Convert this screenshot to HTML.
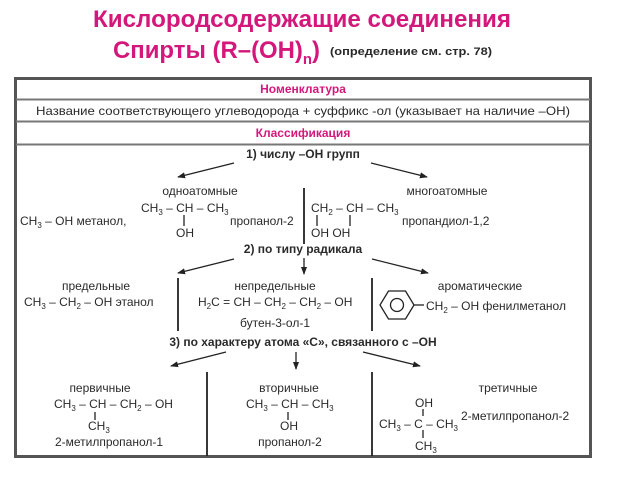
<!DOCTYPE html>
<html><head><meta charset="utf-8"><style>
html,body{margin:0;padding:0;background:#fff;}
svg{display:block;}
text{font-family:"Liberation Sans",sans-serif;fill:#2a2a2a;}
.b{font-weight:bold;}
.m{fill:#d4177a;font-weight:bold;}
</style></head><body>
<svg width="623" height="477" viewBox="0 0 623 477" xmlns="http://www.w3.org/2000/svg">
<defs><marker id="a" markerWidth="8" markerHeight="8" refX="7" refY="4" orient="auto" markerUnits="userSpaceOnUse"><path d="M0,1 L8,4 L0,7 z" fill="#222"/></marker></defs>
<text x="302" y="27" class="m" font-size="24" text-anchor="middle" textLength="418" lengthAdjust="spacingAndGlyphs">Кислородсодержащие соединения</text>
<text x="113" y="58" class="m" font-size="24" textLength="207" lengthAdjust="spacingAndGlyphs">Спирты (R–(OH)<tspan font-size="15" dy="6">n</tspan><tspan dy="-6">)</tspan></text>
<text x="330" y="55" class="b" font-size="11" textLength="162" lengthAdjust="spacingAndGlyphs">(определение см. стр. 78)</text>
<rect x="15.5" y="78.5" width="575" height="378" fill="none" stroke="#555" stroke-width="3"/>
<line x1="16" y1="99.5" x2="590" y2="99.5" stroke="#777" stroke-width="2"/>
<line x1="16" y1="121.5" x2="590" y2="121.5" stroke="#777" stroke-width="2"/>
<line x1="16" y1="144.5" x2="590" y2="144.5" stroke="#777" stroke-width="2"/>
<text x="303" y="93" class="m" font-size="12" text-anchor="middle">Номенклатура</text>
<text x="303" y="115" font-size="12" text-anchor="middle" textLength="534" lengthAdjust="spacingAndGlyphs">Название соответствующего углеводорода + суффикс -ол (указывает на наличие –OH)</text>
<text x="303" y="137" class="m" font-size="12" text-anchor="middle">Классификация</text>
<text x="303" y="158" class="b" font-size="12" text-anchor="middle">1) числу –OH групп</text>
<g stroke="#222" stroke-width="1.3" fill="none">
<line x1="234" y1="163" x2="178" y2="177" marker-end="url(#a)"/>
<line x1="371" y1="163" x2="427" y2="177" marker-end="url(#a)"/>
<line x1="304" y1="188" x2="304" y2="244" stroke-width="1.8"/>
<line x1="234" y1="259" x2="178" y2="273" marker-end="url(#a)"/>
<line x1="304" y1="258" x2="304" y2="274" marker-end="url(#a)"/>
<line x1="372" y1="259" x2="428" y2="273" marker-end="url(#a)"/>
<line x1="178" y1="278" x2="178" y2="331" stroke-width="1.8"/>
<line x1="372" y1="278" x2="372" y2="331" stroke-width="1.8"/>
<line x1="226" y1="352" x2="171" y2="366" marker-end="url(#a)"/>
<line x1="296" y1="352" x2="296" y2="369" marker-end="url(#a)"/>
<line x1="363" y1="352" x2="420" y2="366" marker-end="url(#a)"/>
<line x1="207" y1="372" x2="207" y2="456" stroke-width="1.8"/>
<line x1="372" y1="372" x2="372" y2="456" stroke-width="1.8"/>
<line x1="184" y1="215" x2="184" y2="226"/>
<line x1="317" y1="215" x2="317" y2="226"/>
<line x1="350" y1="215" x2="350" y2="226"/>
<line x1="95" y1="412" x2="95" y2="420"/>
<line x1="288" y1="412" x2="288" y2="420"/>
<line x1="423" y1="409" x2="423" y2="416"/>
<line x1="423" y1="430" x2="423" y2="438"/>
<polygon points="380,305 388.5,291 405.5,291 414,305 405.5,319 388.5,319" stroke-width="1.3"/>
<circle cx="397" cy="305" r="6.5"/>
<line x1="414" y1="305" x2="424" y2="305"/>
</g>
<text x="200" y="195" font-size="12" text-anchor="middle">одноатомные</text>
<text x="141" y="212" font-size="12">CH<tspan font-size="8" dy="3">3</tspan><tspan dy="-3"> – CH – CH</tspan><tspan font-size="8" dy="3">3</tspan></text>
<text x="176" y="237" font-size="12">OH</text>
<text x="20" y="225" font-size="12">CH<tspan font-size="8" dy="3">3</tspan><tspan dy="-3"> – OH  метанол,</tspan></text>
<text x="230" y="225" font-size="12">пропанол-2</text>
<text x="311" y="212" font-size="12">CH<tspan font-size="8" dy="3">2</tspan><tspan dy="-3"> – CH – CH</tspan><tspan font-size="8" dy="3">3</tspan></text>
<text x="311" y="237" font-size="12">OH   OH</text>
<text x="447" y="195" font-size="12" text-anchor="middle">многоатомные</text>
<text x="402" y="225" font-size="12">пропандиол-1,2</text>
<text x="303" y="253" class="b" font-size="12" text-anchor="middle">2) по типу радикала</text>
<text x="96" y="290" font-size="12" text-anchor="middle">предельные</text>
<text x="24" y="306" font-size="12">CH<tspan font-size="8" dy="3">3</tspan><tspan dy="-3"> – CH</tspan><tspan font-size="8" dy="3">2</tspan><tspan dy="-3"> – OH  этанол</tspan></text>
<text x="275" y="290" font-size="12" text-anchor="middle">непредельные</text>
<text x="198" y="306" font-size="12">H<tspan font-size="8" dy="3">2</tspan><tspan dy="-3">C = CH – CH</tspan><tspan font-size="8" dy="3">2</tspan><tspan dy="-3"> – CH</tspan><tspan font-size="8" dy="3">2</tspan><tspan dy="-3"> – OH</tspan></text>
<text x="275" y="327" font-size="12" text-anchor="middle">бутен-3-ол-1</text>
<text x="480" y="290" font-size="12" text-anchor="middle">ароматические</text>
<text x="426" y="310" font-size="12">CH<tspan font-size="8" dy="3">2</tspan><tspan dy="-3"> – OH </tspan><tspan>фенилметанол</tspan></text>
<text x="303" y="346" class="b" font-size="12" text-anchor="middle">3) по характеру атома «С», связанного с –OH</text>
<text x="100" y="392" font-size="12" text-anchor="middle">первичные</text>
<text x="54" y="408" font-size="12">CH<tspan font-size="8" dy="3">3</tspan><tspan dy="-3"> – CH – CH</tspan><tspan font-size="8" dy="3">2</tspan><tspan dy="-3"> – OH</tspan></text>
<text x="88" y="430" font-size="12">CH<tspan font-size="8" dy="3">3</tspan></text>
<text x="109" y="446" font-size="12" text-anchor="middle">2-метилпропанол-1</text>
<text x="289" y="392" font-size="12" text-anchor="middle">вторичные</text>
<text x="246" y="408" font-size="12">CH<tspan font-size="8" dy="3">3</tspan><tspan dy="-3"> – CH – CH</tspan><tspan font-size="8" dy="3">3</tspan></text>
<text x="280" y="430" font-size="12">OH</text>
<text x="290" y="446" font-size="12" text-anchor="middle">пропанол-2</text>
<text x="508" y="392" font-size="12" text-anchor="middle">третичные</text>
<text x="415" y="407" font-size="12">OH</text>
<text x="379" y="428" font-size="12">CH<tspan font-size="8" dy="3">3</tspan><tspan dy="-3"> – C – CH</tspan><tspan font-size="8" dy="3">3</tspan></text>
<text x="415" y="450" font-size="12">CH<tspan font-size="8" dy="3">3</tspan></text>
<text x="461" y="420" font-size="12">2-метилпропанол-2</text>
</svg>
</body></html>
